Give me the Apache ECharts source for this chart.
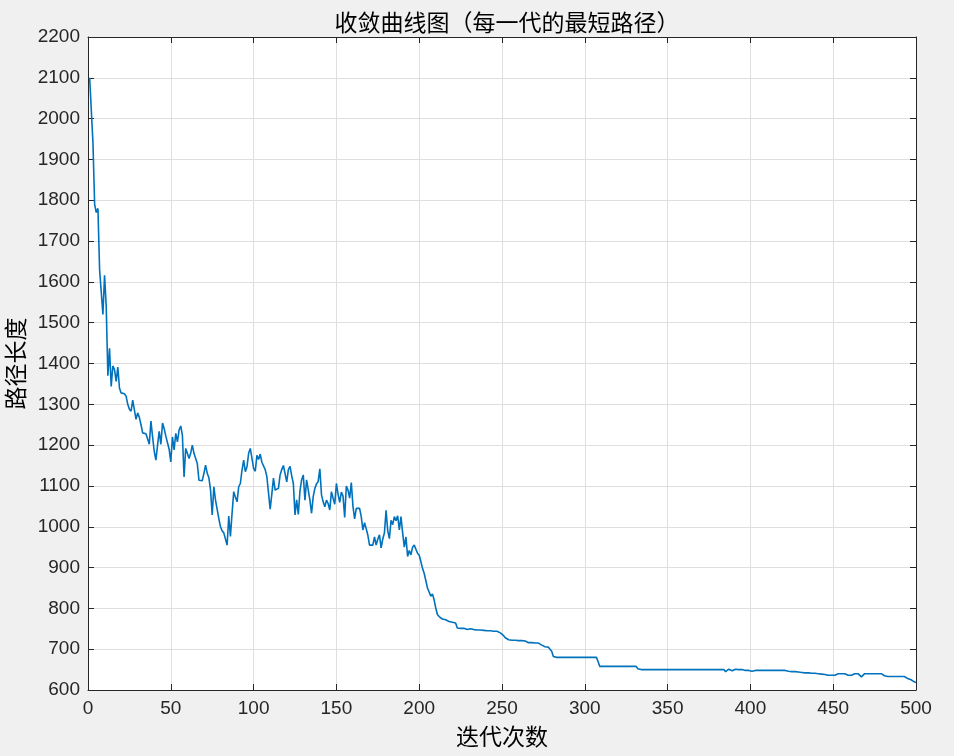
<!DOCTYPE html>
<html>
<head>
<meta charset="utf-8">
<script src="https://cdn.jsdelivr.net/npm/echarts@6/dist/echarts.min.js"></script>
<style>
html,body{margin:0;padding:0;background:#f0f0f0;}
#chart{width:954px;height:756px;}
</style>
</head>
<body>
<div id="chart"></div>
<script>
const titleText = '收敛曲线图（每一代的最短路径）';
const xName = '迭代次数';
const yName = '路径长度';
const xTicks = [0, 50, 100, 150, 200, 250, 300, 350, 400, 450, 500];
const yTicks = [600, 700, 800, 900, 1000, 1100, 1200, 1300, 1400, 1500, 1600, 1700, 1800, 1900, 2000, 2100, 2200];

const bestLength = [
2100, 2100, 1940, 1790, 1770, 1780, 1630, 1630, 1520, 1616,
1540, 1370, 1437, 1344, 1394, 1385, 1356, 1391, 1340, 1328,
1326, 1326, 1320, 1300, 1288, 1283, 1310, 1308, 1263, 1279,
1268, 1250, 1230, 1228, 1228, 1226, 1202, 1259, 1220, 1185,
1163, 1200, 1234, 1202, 1254, 1240, 1222, 1220, 1190, 1159,
1220, 1188, 1229, 1208, 1237, 1247, 1224, 1122, 1192, 1180,
1167, 1180, 1200, 1180, 1180, 1155, 1114, 1115, 1113, 1131,
1151, 1131, 1120, 1090, 1029, 1098, 1065, 1061, 1020, 1000,
990, 985, 984, 955, 1026, 976, 1033, 1086, 1073, 1061,
1098, 1106, 1139, 1163, 1135, 1147, 1180, 1192, 1196, 1143,
1136, 1175, 1165, 1178, 1158, 1160, 1140, 1123, 1120, 1043,
1080, 1119, 1090, 1092, 1094, 1127, 1140, 1150, 1147, 1110,
1140, 1148, 1125, 1106, 1029, 1066, 1030, 1088, 1115, 1127,
1065, 1115, 1114, 1065, 1033, 1074, 1094, 1105, 1111, 1142,
1078, 1061, 1049, 1065, 1057, 1041, 1086, 1070, 1055, 1106,
1080, 1060, 1085, 1075, 1023, 1100, 1090, 1070, 1108, 1050,
1019, 1045, 1043, 1045, 1025, 992, 1010, 995, 979, 955,
953, 955, 975, 955, 970, 980, 948, 970, 985, 1040,
990, 971, 1016, 1005, 1025, 1015, 1027, 992, 1025, 985,
950, 975, 927, 942, 931, 950, 955, 945, 935, 930,
915, 898, 886, 886, 850, 840, 830, 835, 821, 801,
785, 780, 776, 774, 773, 772, 771, 768, 767, 766,
766, 764, 752, 752, 751, 751, 751, 750, 748, 746,
750, 748, 748, 747, 747, 747, 747, 747, 746, 746,
745, 745, 745, 744, 744, 744, 744, 748, 740, 736,
733, 728, 724, 723, 723, 722, 722, 722, 721, 721,
721, 721, 720, 720, 717, 716, 716, 716, 716, 715,
715, 715, 715, 710, 706, 706, 705, 705, 705, 695,
682, 680, 680, 680, 680, 680, 680, 680, 680, 680,
680, 680, 680, 680, 680, 680, 680, 680, 680, 680,
680, 680, 680, 680, 680, 680, 680, 670, 658, 658,
658, 658, 658, 658, 658, 658, 658, 658, 658, 658,
658, 658, 658, 658, 658, 658, 658, 658, 658, 658,
658, 652, 650, 650, 650, 650, 650, 650, 650, 650,
650, 650, 650, 650, 650, 650, 650, 650, 650, 650,
650, 650, 650, 650, 650, 650, 650, 650, 650, 650,
650, 650, 650, 650, 650, 650, 650, 650, 650, 650,
650, 650, 650, 650, 650, 650, 650, 650, 650, 650,
650, 650, 650, 650, 645, 648, 651, 651, 647, 647,
651, 651, 650, 650, 650, 650, 648, 648, 648, 645,
646, 648, 648, 648, 648, 648, 648, 648, 648, 648,
648, 648, 648, 648, 648, 648, 648, 648, 648, 648,
648, 648, 646, 646, 645, 645, 645, 644, 644, 644,
643, 643, 642, 642, 642, 642, 641, 641, 641, 641,
640, 640, 639, 639, 638, 638, 636, 636, 636, 633,
636, 640, 640, 640, 640, 640, 640, 640, 636, 636,
636, 640, 640, 640, 640, 640, 632, 636, 640, 640,
640, 640, 640, 640, 640, 640, 640, 640, 640, 640,
635, 633, 633, 633, 633, 633, 633, 633, 633, 633,
633, 633, 633, 633, 628, 625, 625, 622, 620, 618
];

const generations = bestLength.map((_, i) => i + 1);
const seriesData = generations.map((g, i) => [g, bestLength[i]]);

const axisColor = '#262626';
const plainNum = v => String(v);
const tickFont = { fontFamily: 'Liberation Sans, Arial, sans-serif', fontSize: 19, color: axisColor, formatter: plainNum };
const cjkFont = 'Noto Sans CJK SC';

const chart = echarts.init(document.getElementById('chart'), null, { renderer: 'canvas' });
const xMin = xTicks[0], xMax = xTicks[xTicks.length - 1], xStep = xTicks[1] - xTicks[0];
const yMin = yTicks[0], yMax = yTicks[yTicks.length - 1], yStep = yTicks[1] - yTicks[0];

chart.setOption({
  animation: false,
  backgroundColor: '#f0f0f0',
  title: {
    text: titleText,
    left: 502,
    textAlign: 'center',
    top: 6,
    textStyle: { fontFamily: cjkFont, fontSize: 23, fontWeight: 'normal', color: '#000' }
  },
  grid: {
    left: 88, right: 38, top: 37, bottom: 66,
    containLabel: false,
    outerBoundsMode: 'none',
    show: true, backgroundColor: '#ffffff', borderWidth: 0
  },
  xAxis: [{
    type: 'value', min: xMin, max: xMax, interval: xStep,
    name: xName, nameLocation: 'middle', nameGap: 35,
    nameTextStyle: { fontFamily: cjkFont, fontSize: 23, color: '#000' },
    axisLine: { show: true, onZero: false, lineStyle: { color: axisColor, width: 1 } },
    axisTick: { show: true, inside: true, length: 6, lineStyle: { color: axisColor } },
    axisLabel: Object.assign({ margin: 9 }, tickFont),
    splitLine: { show: true, lineStyle: { color: '#dfdfdf', width: 1 } }
  }, {
    type: 'value', min: xMin, max: xMax, interval: xStep, position: 'top',
    axisLine: { show: true, onZero: false, lineStyle: { color: axisColor, width: 1 } },
    axisTick: { show: true, inside: true, length: 6, lineStyle: { color: axisColor } },
    axisLabel: { show: false },
    splitLine: { show: false }
  }],
  yAxis: [{
    type: 'value', min: yMin, max: yMax, interval: yStep,
    name: yName, nameLocation: 'middle', nameGap: 58, nameRotate: 90,
    nameTextStyle: { fontFamily: cjkFont, fontSize: 23, color: '#000' },
    axisLine: { show: true, onZero: false, lineStyle: { color: axisColor, width: 1 } },
    axisTick: { show: true, inside: true, length: 6, lineStyle: { color: axisColor } },
    axisLabel: Object.assign({ margin: 8 }, tickFont),
    splitLine: { show: true, lineStyle: { color: '#dfdfdf', width: 1 } }
  }, {
    type: 'value', min: yMin, max: yMax, interval: yStep, position: 'right',
    axisLine: { show: true, onZero: false, lineStyle: { color: axisColor, width: 1 } },
    axisTick: { show: true, inside: true, length: 6, lineStyle: { color: axisColor } },
    axisLabel: { show: false },
    splitLine: { show: false }
  }],
  series: [{
    type: 'line',
    xAxisIndex: 0, yAxisIndex: 0,
    data: seriesData,
    showSymbol: false,
    symbol: 'none',
    lineStyle: { color: '#0072BD', width: 1.6 },
    itemStyle: { color: '#0072BD' }
  }]
});
</script>
</body>
</html>
